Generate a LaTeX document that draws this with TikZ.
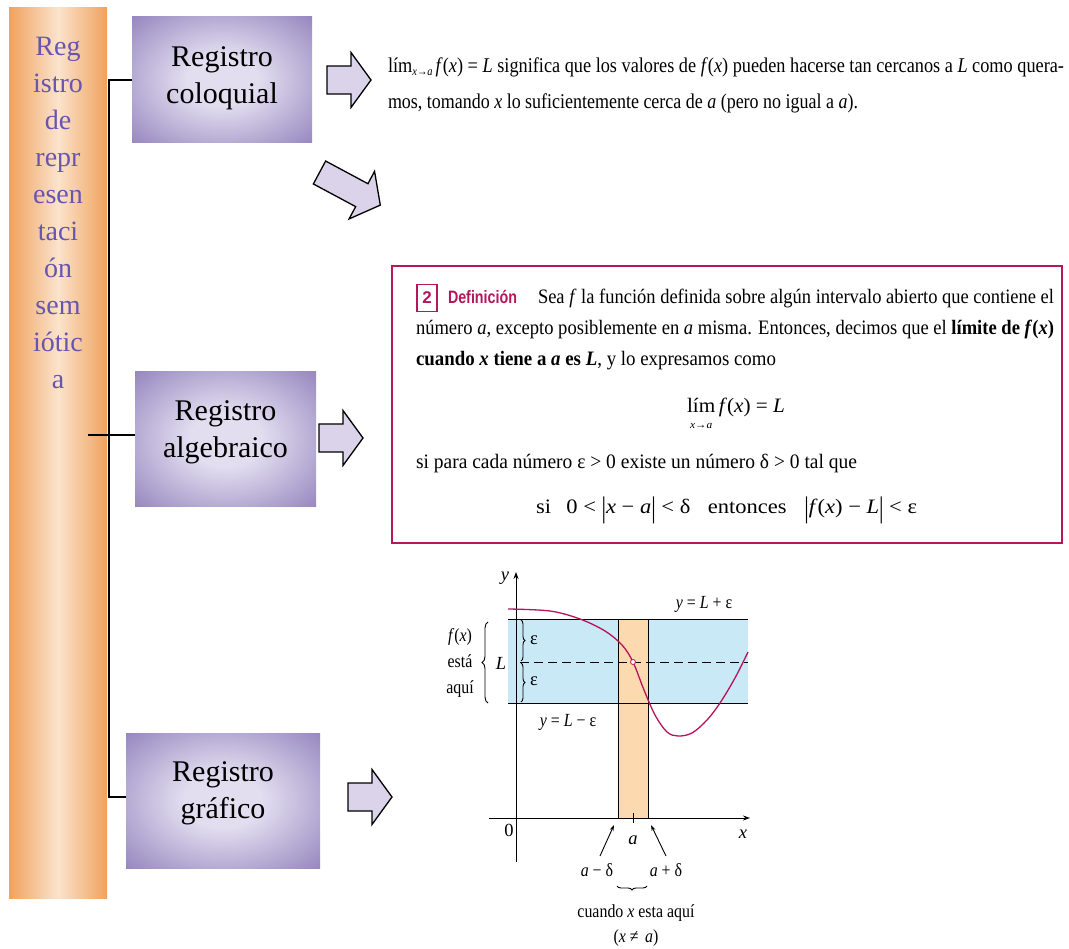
\documentclass[tikz,border=0pt]{standalone}
\usepackage{fontspec}
\setmainfont{Liberation Serif}
\setsansfont{Liberation Sans}
\usepackage{graphicx}
\usetikzlibrary{decorations.pathreplacing,arrows.meta}
\definecolor{barOr}{HTML}{EFA25E}
\definecolor{barLt}{HTML}{FBE3CC}
\definecolor{boxPu}{HTML}{8F7EBA}
\definecolor{boxLt}{HTML}{E2DEF0}
\definecolor{arrFill}{HTML}{DAD3EA}
\definecolor{txtPu}{HTML}{6656B0}
\definecolor{defRed}{HTML}{B3185C}
\definecolor{curveRed}{HTML}{B5145A}
\definecolor{bandBl}{HTML}{C9E9F7}
\definecolor{bandOr}{HTML}{FDD9B0}
\pgfdeclareradialshading{boxshade}{\pgfpoint{0bp}{0bp}}{color(0bp)=(boxLt); color(10bp)=(boxLt); color(38bp)=(boxPu); color(50bp)=(boxPu)}
\newcommand{\ii}[1]{\textit{#1}}
\newcommand{\cx}[1]{\scalebox{0.86}[1]{#1}}
\newcommand{\bigbar}{\raisebox{-4pt}{\scalebox{1}[1.45]{|}}}
\tikzset{
  fatarr/.pic={\draw[fill=arrFill,line width=1.3pt,line join=miter] (0,-14) -- (24,-14) -- (24,-27.5) -- (44,0) -- (24,27.5) -- (24,14) -- (0,14) -- cycle;},
  fatarrlong/.pic={\draw[fill=arrFill,line width=1.3pt,line join=miter] (0,-13) -- (48,-13) -- (48,-27) -- (69,0) -- (48,27) -- (48,13) -- (0,13) -- cycle;},
}
\begin{document}
\begin{tikzpicture}[x=1pt,y=-1pt,
  every node/.style={inner sep=0pt,outer sep=0pt},
  regbox/.style={shading=boxshade},
  regtxt/.style={align=center, font=\fontsize{30}{37}\selectfont, text=black},
  conn/.style={line width=1.4pt},
  txt/.style={font=\fontsize{21}{25}\selectfont, anchor=base west},
  dtxt/.style={font=\fontsize{20.5}{25}\selectfont, anchor=base west},
  glab/.style={font=\fontsize{18.5}{26}\selectfont},
  gline/.style={line width=0.9pt}
]
\useasboundingbox (0,0) rectangle (1069,949);

% left bar
\node[left color=barOr,right color=barOr,middle color=barLt, minimum width=98pt, minimum height=890pt] (bar) at (58,453) {};
\node[font=\fontsize{28}{37}\selectfont, text=txtPu, align=center] (bartxt) at (58,213) {Reg\\istro\\de\\repr\\esen\\taci\\ón\\sem\\iótic\\a};

% register boxes
\node[regbox, minimum width=180pt, minimum height=126pt] (b1) at (222,80) {};
\node[regbox, minimum width=181pt, minimum height=135pt] (b2) at (225.5,439.5) {};
\node[regbox, minimum width=194pt, minimum height=135pt] (b3) at (223,800.5) {};
\node[regtxt] (t1) at (222,78.5) {Registro\\coloquial};
\node[regtxt] (t2) at (225.5,432) {Registro\\algebraico};
\node[regtxt] (t3) at (223,793.5) {Registro\\gráfico};

% connectors
\coordinate (j1) at (109,80);
\coordinate (j3) at (109,797);
\coordinate (j2) at (88,435);
\draw[conn] (b1.west |- j1) -- (j1) -- (j3) -- (b3.west |- j3);
\draw[conn] (j2) -- (b2.west |- j2);

% block arrows
\pic (a1) at (327,80) {fatarr};
\pic[rotate=-28.2] (a2) at (319.5,172.5) {fatarrlong};
\pic (a3) at (319,438) {fatarr};
\pic (a4) at (348,797) {fatarr};

% colloquial text
\node[txt] (c1) at (388,73) {\resizebox{676pt}{\height}{lím\raisebox{-3pt}{\fontsize{12}{12}\selectfont\ii{x}→\ii{a}}\,\ii{f}(\ii{x}) = \ii{L} significa que los valores de \ii{f}(\ii{x}) pueden hacerse tan cercanos a \ii{L} como quera-}};
\node[txt] (c2) at (388,109) {\resizebox{470pt}{\height}{mos, tomando \ii{x} lo suficientemente cerca de \ii{a} (pero no igual a \ii{a}).}};

% definition box
\node[draw=defRed, line width=2pt, minimum width=670pt, minimum height=277pt] (def) at (727,404.5) {};
\node[draw=defRed, line width=1.2pt, minimum width=20pt, minimum height=27pt, font=\sffamily\bfseries\fontsize{17}{17}\selectfont, text=defRed] (n2) at (427,298) {2};
\node[anchor=base west, font=\sffamily\bfseries\fontsize{18}{18}\selectfont, text=defRed] (defi) at (448,304) {\resizebox{69pt}{\height}{Definición}};
\node[dtxt] (d1) at (538,304) {\resizebox{516pt}{\height}{Sea \ii{f} la función definida sobre algún intervalo abierto que contiene el}};
\node[dtxt] (d2) at (416,335) {\resizebox{638pt}{\height}{número \ii{a}, excepto posiblemente en \ii{a} misma. Entonces, decimos que el \textbf{límite de \ii{f}(\ii{x})}}};
\node[dtxt] (d3) at (416,366) {\resizebox{360pt}{\height}{\textbf{cuando \ii{x} tiene a \ii{a} es \ii{L}}, y lo expresamos como}};
\node[dtxt] (d4) at (687,413) {\resizebox{98pt}{\height}{\begin{tabular}[t]{@{}c@{}}lím\\[-9pt]{\fontsize{11}{11}\selectfont\ii{x}→\ii{a}}\end{tabular}\,\ii{f}(\ii{x}) = \ii{L}}};
\node[dtxt] (d5) at (416,469) {\resizebox{441pt}{\height}{si para cada número ε > 0 existe un número δ > 0 tal que}};
\node[dtxt] (d6) at (536,514) {\resizebox{381pt}{\height}{si\hspace{14pt}0 < \bigbar\ii{x} − \ii{a}\bigbar{} < δ\hspace{16pt}entonces\hspace{16pt}\bigbar\ii{f}(\ii{x}) − \ii{L}\bigbar{} < ε}};

% graph
\fill[bandBl] (508,619) rectangle (748,703);
\fill[bandOr] (618,619) rectangle (648,818);
\draw[gline] (508,619) -- (748,619);
\draw[gline] (508,703) -- (748,703);
\draw[gline] (618,619) -- (618,818);
\draw[gline] (648,619) -- (648,818);
\draw[gline, dash pattern=on 9pt off 5pt] (520,662) -- (748,662);
\draw[gline, -{Stealth[length=7pt,width=5pt]}] (516,862) -- (516,572);
\draw[gline, -{Stealth[length=7pt,width=5pt]}] (489,818) -- (750,818);
\draw[line width=1.3pt, curveRed] plot[smooth, tension=0.55] coordinates {(508,609) (550,611) (580,619) (605,631) (622,645) (633,662) (644,690) (655,715) (667,732) (678,736) (692,733) (707,720) (720,703) (735,678) (748,652)};
\draw[curveRed, fill=white, line width=0.8pt] (633,662) circle[radius=2.5pt];
\draw[gline] (633,813) -- (633,823);
\draw[gline, decorate, decoration={brace, amplitude=4pt}] (521,620) -- (521,661);
\draw[gline, decorate, decoration={brace, amplitude=4pt}] (521,663) -- (521,702);
\draw[gline, decorate, decoration={brace, amplitude=6pt}] (488,703) -- (488,622);
\draw[gline, decorate, decoration={brace, amplitude=4pt}] (647,886) -- (617,886);
\draw[gline, -{Stealth[length=6pt,width=4pt]}] (600,856) -- (614,825);
\draw[gline, -{Stealth[length=6pt,width=4pt]}] (666,856) -- (651,825);

\node[glab] (ly) at (505,578) {\ii{y}};
\node[glab] (lx) at (743,834) {\ii{x}};
\node[glab] (l0) at (509,830) {0};
\node[glab] (la) at (633,840) {\ii{a}};
\node[glab] (lup) at (704,604) {\cx{\ii{y} = \ii{L} + ε}};
\node[glab] (llo) at (568,722) {\cx{\ii{y} = \ii{L} − ε}};
\node[glab] (lL) at (501,663) {\ii{L}};
\node[glab] (le1) at (534,640) {ε};
\node[glab] (le2) at (534,681) {ε};
\node[glab, align=center] (lfx) at (460,663) {\cx{\ii{f}(\ii{x})}\\\cx{está}\\\cx{aquí}};
\node[glab] (lam) at (597,870) {\cx{\ii{a} − δ}};
\node[glab] (lap) at (666,870) {\cx{\ii{a} + δ}};
\node[glab] (lcu) at (636,913) {\cx{cuando \ii{x} esta aquí}};
\node[glab] (lne) at (636,938) {\cx{(\ii{x} ≠\, \ii{a})}};
\end{tikzpicture}
\end{document}
